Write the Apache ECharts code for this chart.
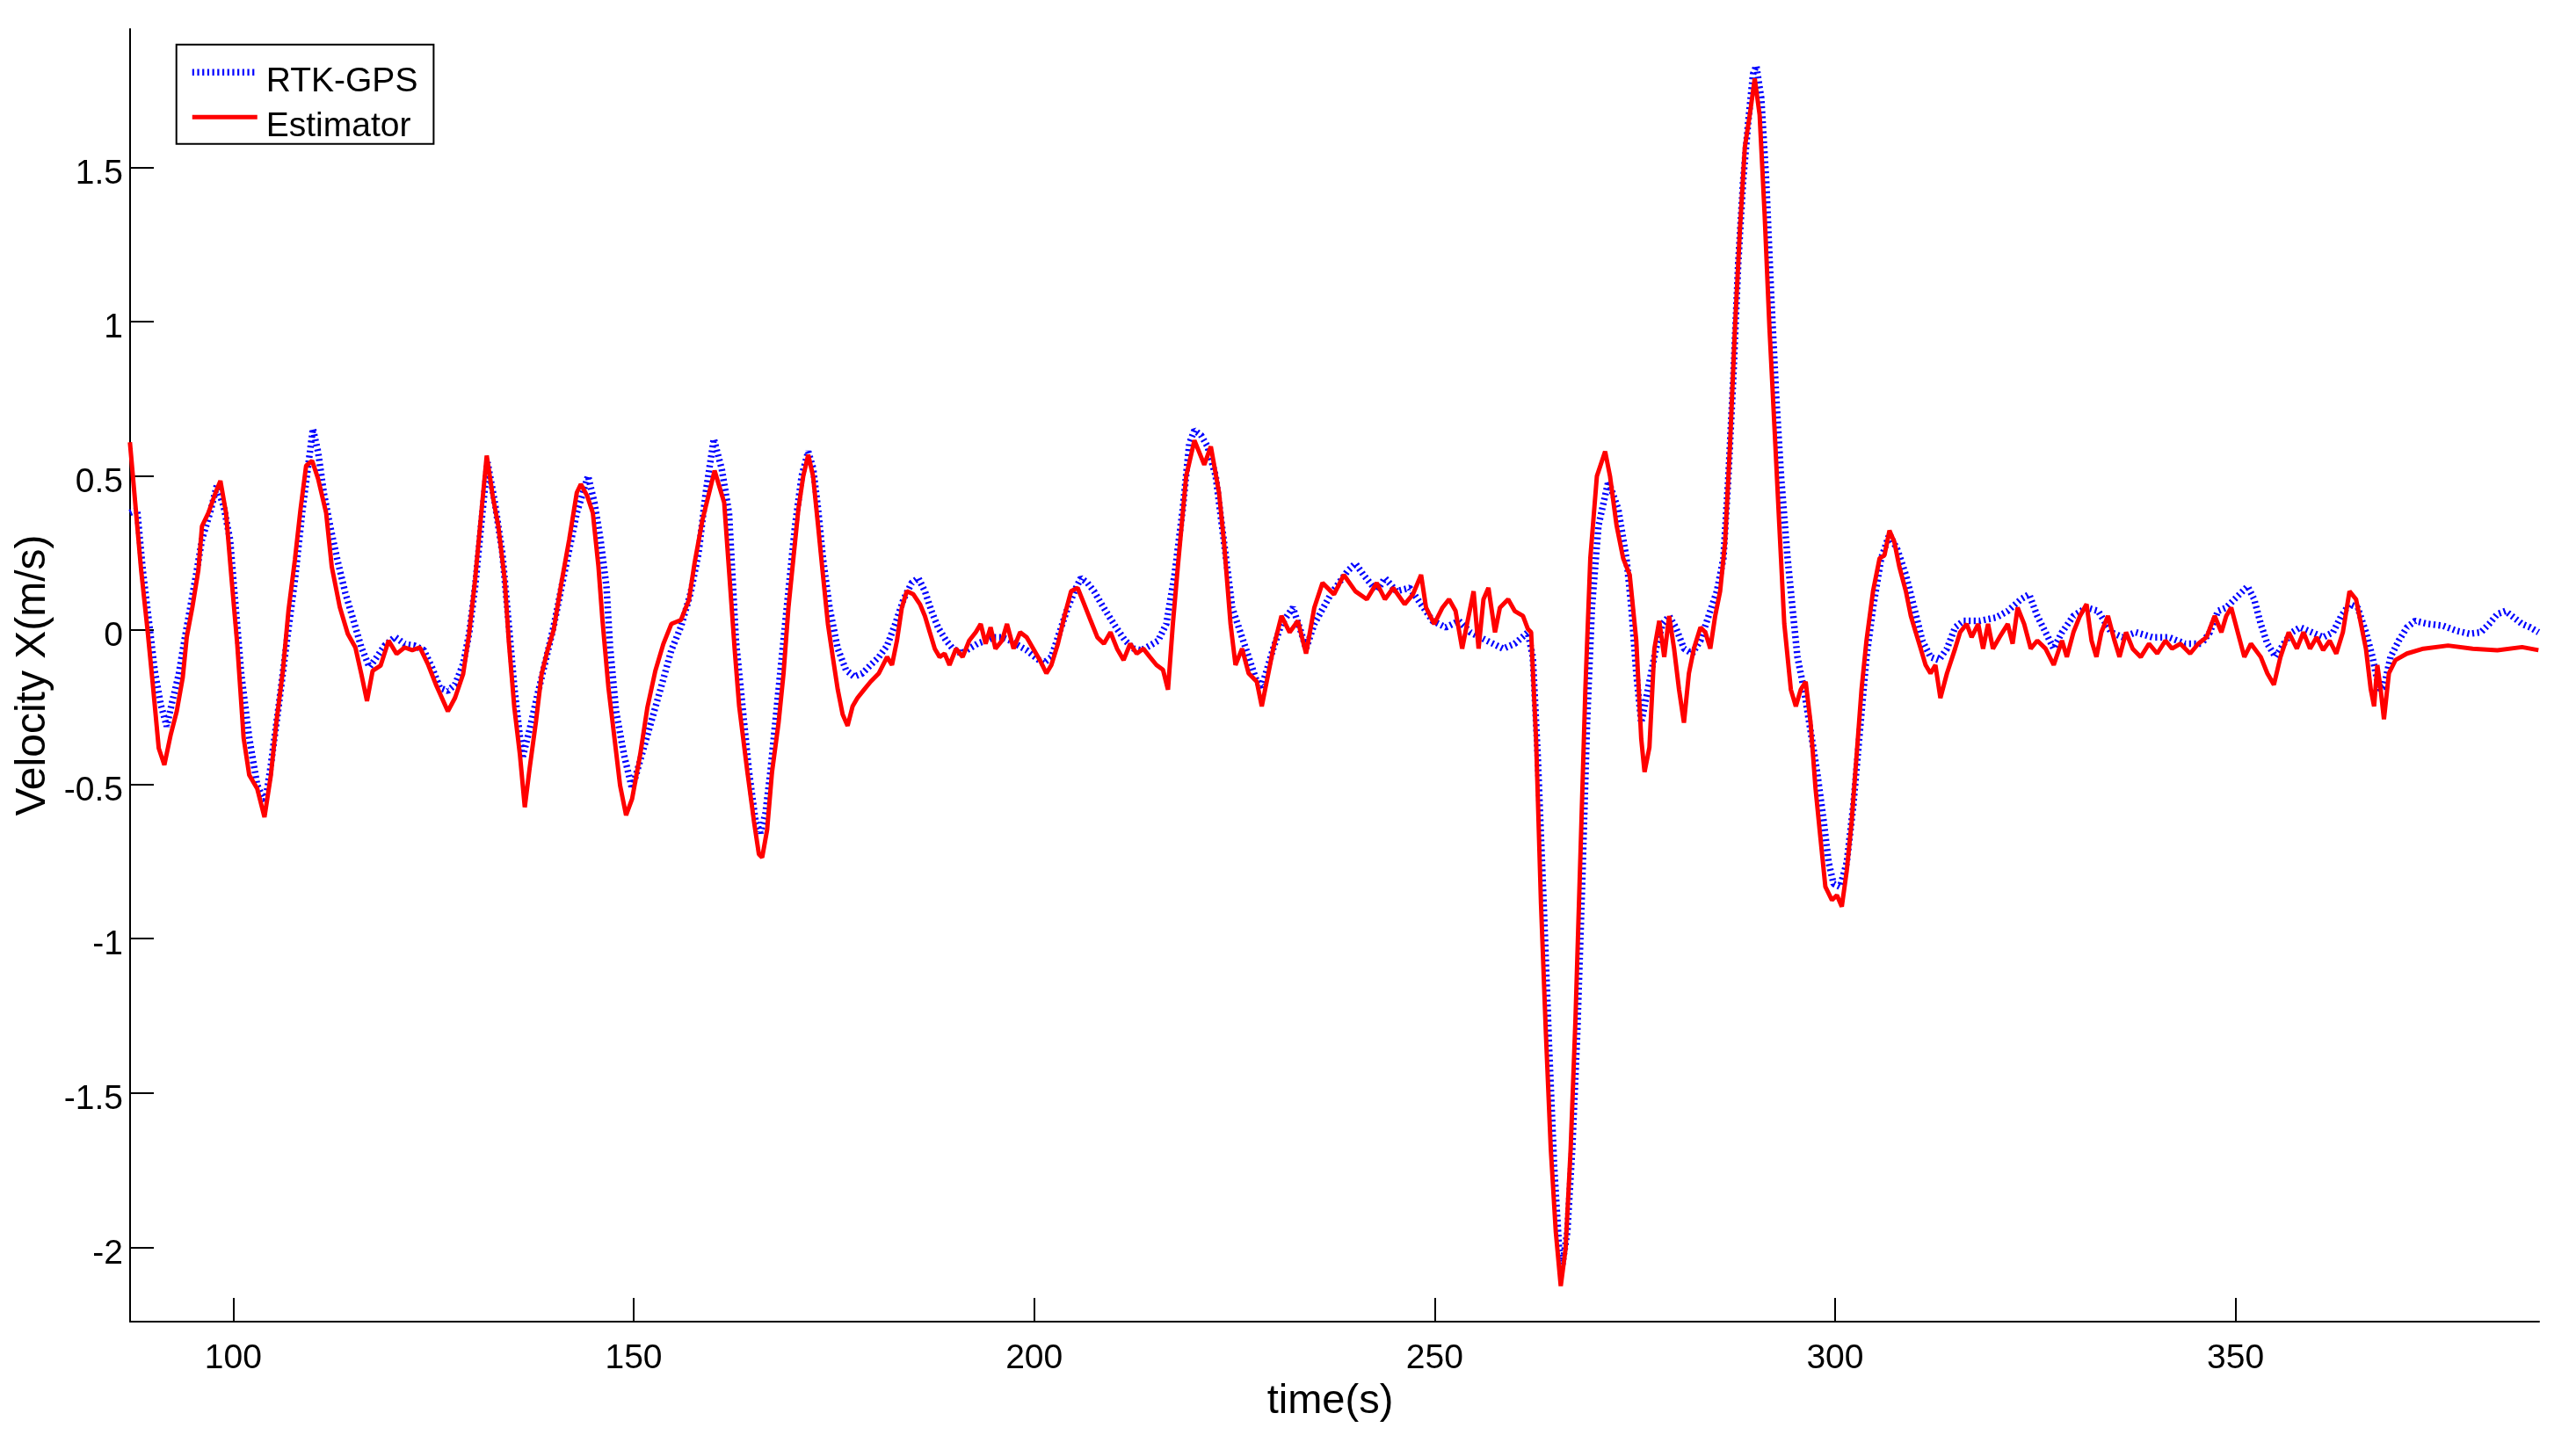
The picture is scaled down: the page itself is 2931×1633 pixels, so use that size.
<!DOCTYPE html>
<html>
<head>
<meta charset="utf-8">
<script src="https://cdn.jsdelivr.net/npm/echarts@6/dist/echarts.min.js"></script>
<style>
html,body{margin:0;padding:0;background:#fff;}
#chart{width:2931px;height:1633px;}
</style>
</head>
<body>
<div id="chart"></div>
<script>
const xTicks = [100, 150, 200, 250, 300, 350];
const yTicks = [-2, -1.5, -1, -0.5, 0, 0.5, 1, 1.5];

const rtkTime = [87.1,88.0,88.7,89.45,90.2,90.95,91.7,92.4,93.2,93.9,94.65,95.4,96.1,97.1,97.95,98.8,99.6,100.3,101.0,102.0,103.0,104.0,104.7,105.7,106.7,107.7,108.6,109.95,110.6,111.3,112.1,113.0,114.0,115.0,116.0,117.0,117.9,118.9,120.2,121.4,122.6,123.8,124.8,125.8,126.8,127.7,128.7,129.45,130.2,130.9,131.75,132.6,133.6,134.35,135.1,136.1,137.05,138.0,139.0,140.0,141.0,141.95,142.9,144.3,145.1,145.85,146.6,147.05,147.8,148.8,149.8,151.0,152.2,153.4,154.7,155.9,157.1,158.1,159.0,160.0,161.0,161.9,
162.76,163.58,164.40,165.22,165.84,166.45,167.07,167.68,168.50,169.32,170.15,170.97,171.79,172.40,173.02,173.63,174.45,175.48,176.50,177.53,178.56,179.58,180.61,181.64,182.66,183.69,184.71,185.54,186.36,187.18,188.00,189.02,189.84,190.87,191.89,192.92,193.94,194.97,195.99,197.02,198.05,199.07,200.10,201.12,202.15,203.17,204.20,205.23,205.84,206.66,207.48,208.30,209.32,210.35,211.38,212.40,213.43,214.45,215.48,216.50,217.53,218.55,219.37,220.01,
220.83,221.65,222.67,223.70,224.73,225.75,226.78,227.80,228.42,229.24,229.85,230.88,232.31,233.34,233.95,234.98,237.03,239.08,240.11,241.13,242.77,243.80,245.24,246.88,248.31,249.75,251.39,253.03,254.46,256.52,258.57,260.0,261.64,262.26,262.87,263.69,264.31,264.92,265.54,265.95,266.57,267.18,267.80,268.41,269.03,269.64,270.46,271.70,272.93,273.95,274.57,275.18,275.80,276.62,277.64,278.46,279.28,280.11,281.13,282.16,283.19,284.21,285.24,286.06,286.68,287.29,287.91,288.52,289.14,289.76,290.17,290.78,291.40,292.02,292.63,293.25,294.07,294.68,295.30,296.12,296.94,297.76,298.58,299.20,299.81,300.63,301.46,302.28,303.10,303.92,304.74,305.76,306.79,307.81,308.84,309.87,310.89,311.92,312.94,313.97,314.99,316.02,318.07,320.12,321.56,323.20,324.23,325.25,326.28,327.30,328.33,329.76,331.40,332.84,334.48,335.92,337.56,339.61,341.66,343.71,345.76,346.79,347.81,348.84,349.87,351.51,352.33,353.15,353.97,355.0,356.02,357.05,358.07,359.51,360.94,362.17,363.20,364.23,365.25,366.28,367.10,367.92,368.53,369.35,370.38,371.40,372.43,374.07,375.92,377.56,379.20,380.64,381.66,382.69,383.71,384.74,385.77,386.79,387.82];
const rtkVel = [0.38,0.39,0.195,0.033,-0.132,-0.241,-0.312,-0.23,-0.143,-0.034,0.075,0.185,0.294,0.38,0.468,0.402,0.294,0.075,-0.143,-0.35,-0.503,-0.558,-0.437,-0.241,-0.034,0.163,0.38,0.653,0.577,0.446,0.337,0.228,0.12,0.033,-0.056,-0.12,-0.088,-0.05,-0.022,-0.045,-0.05,-0.065,-0.12,-0.187,-0.197,-0.176,-0.11,-0.012,0.141,0.326,0.544,0.424,0.25,0.033,-0.187,-0.416,-0.317,-0.208,-0.099,0.011,0.141,0.261,0.38,0.5,0.413,0.294,0.141,-0.056,-0.263,-0.405,-0.514,-0.405,-0.296,-0.187,-0.065,0.011,0.12,0.25,0.446,0.62,0.522,0.38,
-0.034,-0.247,-0.460,-0.620,-0.657,-0.594,-0.460,-0.300,-0.087,0.126,0.339,0.499,0.579,0.525,0.392,0.233,0.073,-0.060,-0.129,-0.151,-0.140,-0.113,-0.087,-0.050,0.020,0.100,0.153,0.169,0.126,0.062,0.009,-0.034,-0.060,-0.076,-0.060,-0.044,-0.034,-0.023,-0.023,-0.034,-0.050,-0.065,-0.087,-0.108,-0.087,-0.007,0.073,0.137,0.169,0.153,0.126,0.089,0.046,0.004,-0.034,-0.060,-0.065,-0.050,-0.034,0.020,0.179,0.392,0.605,0.648,
0.632,0.595,0.499,0.286,0.073,-0.007,-0.087,-0.167,-0.183,-0.113,-0.060,0.020,0.073,-0.007,-0.060,0.020,0.116,0.190,0.216,0.179,0.126,0.169,0.126,0.137,0.084,0.030,0.009,0.030,-0.007,-0.034,-0.060,-0.044,-0.007,-0.087,-0.406,-0.939,-1.365,-1.737,-2.003,-2.056,-1.950,-1.684,-1.311,-0.832,-0.300,0.073,0.339,0.483,0.392,0.233,0.073,-0.140,-0.300,-0.193,-0.060,0.020,0.046,0.009,-0.060,-0.076,-0.034,0.046,0.126,0.233,0.499,0.818,1.191,1.457,1.643,1.803,1.829,1.724,1.457,1.084,0.765,0.499,0.233,0.073,-0.087,-0.193,-0.326,-0.460,-0.620,-0.753,-0.822,-0.832,-0.753,-0.567,-0.326,-0.087,0.073,0.233,0.311,0.259,0.179,0.073,-0.034,-0.087,-0.097,-0.060,0.009,0.030,0.030,0.041,0.062,0.100,0.116,0.046,-0.007,-0.060,-0.007,0.046,0.073,0.062,-0.007,-0.023,-0.007,-0.023,-0.023,-0.044,-0.044,-0.007,0.062,0.073,0.100,0.142,0.100,0.020,-0.044,-0.087,-0.044,-0.007,0.009,-0.007,-0.023,-0.007,0.046,0.084,0.073,-0.007,-0.087,-0.193,-0.183,-0.087,-0.034,0.009,0.030,0.020,0.014,-0.002,-0.012,-0.007,0.020,0.052,0.062,0.041,0.020,0.009,-0.007];

const estTime = [87.1,87.8,88.5,89.3,90.0,90.7,91.4,92.2,92.95,93.7,94.2,94.9,95.65,96.1,96.9,97.8,98.4,99.1,99.8,100.5,101.3,102.0,103.0,103.9,104.7,105.4,106.2,106.9,107.7,108.4,109.1,109.85,110.6,111.6,112.3,113.3,114.3,115.25,116.0,116.7,117.4,118.4,119.4,120.4,121.4,122.35,123.3,124.3,125.3,126.8,127.7,128.7,129.45,130.2,130.9,131.65,132.4,133.1,133.9,134.4,135.1,135.8,136.4,137.0,137.8,138.5,139.25,140.0,140.97,141.95,142.9,143.4,144.2,144.9,145.6,146.1,146.85,147.6,148.3,149.05,149.8,150.8,151.7,152.7,153.7,154.7,155.9,156.9,157.6,158.6,160.1,161.3,161.9,
162.6,163.17,164.20,165.02,165.63,166.04,166.66,167.27,168.09,168.71,169.32,169.94,170.56,171.17,171.79,172.40,173.02,173.63,174.25,174.86,175.48,176.09,176.71,177.33,177.94,178.76,179.58,180.61,181.64,182.25,182.87,183.48,184.10,184.92,185.74,186.36,186.97,187.59,188.20,188.82,189.43,190.25,191.07,191.89,192.71,193.33,193.94,194.56,195.17,195.99,196.61,197.43,198.25,199.07,199.89,200.71,201.53,202.15,202.97,203.79,204.61,205.43,206.25,207.07,207.89,208.71,209.53,210.35,211.17,211.99,212.81,213.63,214.45,215.27,216.09,216.71,217.32,217.94,
218.98,220.01,221.24,222.06,223.08,223.70,224.52,225.14,225.96,226.78,227.80,228.42,229.24,229.85,230.88,231.90,232.93,233.95,234.98,236.0,237.44,238.67,240.11,241.54,242.77,243.80,244.83,246.26,247.29,248.31,248.93,249.95,250.98,251.80,252.62,253.44,254.05,254.87,255.49,256.10,256.72,257.54,258.15,259.18,260.0,261.03,261.64,262.05,262.67,263.28,263.90,264.51,265.13,265.75,266.36,266.98,267.59,268.21,268.82,269.44,270.26,271.29,271.90,272.72,273.54,274.36,275.18,275.80,276.21,276.82,277.44,278.05,278.67,279.28,279.90,280.52,281.13,281.75,282.37,283.19,283.80,284.42,285.03,285.65,286.27,286.89,287.50,288.12,288.73,289.35,289.97,290.58,291.20,291.81,292.43,293.04,293.66,294.48,295.10,295.71,296.33,296.94,297.56,298.17,298.79,299.61,300.23,300.84,301.46,302.07,302.69,303.30,303.92,304.74,305.56,306.17,306.79,307.40,308.02,308.84,309.46,310.07,310.69,311.30,311.92,312.53,313.15,313.97,314.99,315.61,316.43,317.05,317.87,318.48,319.10,319.71,320.53,321.56,322.17,322.79,323.61,324.43,325.25,326.28,327.30,328.33,328.94,329.76,330.58,331.40,332.02,332.63,333.25,334.07,334.89,335.51,336.33,337.15,338.17,339.20,340.22,341.25,342.07,343.10,344.33,345.35,346.38,347.40,348.23,348.84,349.46,350.28,351.10,351.92,353.15,353.97,354.79,355.61,356.64,357.66,358.48,359.30,360.12,360.94,361.76,362.58,363.40,364.23,365.05,365.66,366.28,366.89,367.30,367.71,368.12,368.53,369.15,369.97,371.40,373.46,376.53,379.61,382.69,385.77,387.82];
const estVel = [0.609,0.402,0.195,0.0,-0.187,-0.383,-0.437,-0.338,-0.263,-0.153,-0.022,0.075,0.195,0.337,0.38,0.446,0.484,0.38,0.163,-0.045,-0.35,-0.47,-0.514,-0.606,-0.47,-0.296,-0.132,0.064,0.228,0.391,0.533,0.549,0.49,0.38,0.206,0.075,-0.012,-0.056,-0.143,-0.23,-0.132,-0.115,-0.034,-0.077,-0.056,-0.065,-0.056,-0.11,-0.176,-0.263,-0.219,-0.143,-0.012,0.163,0.359,0.566,0.435,0.337,0.163,-0.034,-0.252,-0.405,-0.574,-0.449,-0.296,-0.143,-0.065,0.0,0.152,0.294,0.446,0.473,0.435,0.38,0.206,0.033,-0.187,-0.35,-0.503,-0.6,-0.547,-0.405,-0.252,-0.132,-0.045,0.02,0.033,0.098,0.217,0.359,0.517,0.413,0.195,
-0.06,-0.247,-0.460,-0.620,-0.726,-0.737,-0.647,-0.460,-0.300,-0.140,0.073,0.233,0.392,0.499,0.568,0.499,0.339,0.179,0.020,-0.087,-0.193,-0.273,-0.310,-0.247,-0.220,-0.193,-0.167,-0.140,-0.087,-0.113,-0.034,0.073,0.126,0.116,0.084,0.046,-0.007,-0.060,-0.087,-0.076,-0.113,-0.060,-0.087,-0.034,-0.007,0.020,-0.044,0.009,-0.060,-0.034,0.020,-0.060,-0.007,-0.023,-0.060,-0.097,-0.140,-0.113,-0.044,0.046,0.126,0.137,0.084,0.030,-0.023,-0.044,-0.007,-0.060,-0.097,-0.044,-0.076,-0.060,-0.087,-0.113,-0.129,-0.193,0.020,0.206,
0.499,0.615,0.536,0.595,0.446,0.286,0.020,-0.113,-0.060,-0.140,-0.167,-0.247,-0.140,-0.060,0.046,-0.007,0.030,-0.076,0.073,0.153,0.116,0.179,0.126,0.100,0.153,0.100,0.137,0.084,0.116,0.179,0.073,0.020,0.073,0.100,0.062,-0.060,0.020,0.126,-0.060,0.100,0.137,-0.007,0.073,0.100,0.062,0.046,0.004,-0.007,-0.353,-0.886,-1.311,-1.684,-1.950,-2.126,-2.003,-1.684,-1.259,-0.726,-0.193,0.233,0.499,0.579,0.499,0.339,0.233,0.179,-0.034,-0.353,-0.460,-0.380,-0.060,0.030,-0.087,0.046,-0.060,-0.193,-0.300,-0.140,-0.060,0.009,-0.007,-0.060,0.046,0.126,0.286,0.605,0.978,1.297,1.564,1.670,1.788,1.670,1.350,0.978,0.659,0.339,0.020,-0.193,-0.247,-0.193,-0.167,-0.300,-0.513,-0.673,-0.832,-0.875,-0.859,-0.896,-0.779,-0.620,-0.406,-0.193,-0.034,0.126,0.233,0.243,0.323,0.286,0.206,0.126,0.046,-0.007,-0.060,-0.113,-0.140,-0.113,-0.220,-0.140,-0.060,-0.007,0.020,-0.023,0.020,-0.060,0.020,-0.060,-0.023,0.020,-0.044,0.073,0.020,-0.060,-0.034,-0.060,-0.113,-0.034,-0.087,-0.007,0.046,0.084,-0.034,-0.087,-0.007,0.046,-0.034,-0.087,-0.007,-0.060,-0.087,-0.044,-0.076,-0.034,-0.060,-0.044,-0.076,-0.044,-0.023,0.046,-0.007,0.046,0.073,-0.007,-0.087,-0.044,-0.087,-0.140,-0.177,-0.087,-0.007,-0.060,-0.007,-0.060,-0.023,-0.065,-0.034,-0.076,-0.007,0.126,0.100,0.020,-0.060,-0.193,-0.247,-0.113,-0.193,-0.289,-0.140,-0.097,-0.076,-0.060,-0.050,-0.060,-0.065,-0.055,-0.065];

const FONT = 'Liberation Sans, Arial, Helvetica, sans-serif';
const zip = (a, b) => a.map((t, i) => [t, b[i]]);
const BLUE = '#0000ff', RED = '#ff0000';
const blueLine = {color: BLUE, width: 7.5, type: [2.2, 3.5], cap: 'butt'};
const redLine = {color: RED, width: 5};

const chart = echarts.init(document.getElementById('chart'), null, {renderer: 'canvas'});
chart.setOption({
  animation: false,
  backgroundColor: '#ffffff',
  grid: {left: 148, right: 42, top: 33, bottom: 129, containLabel: false},
  legend: {
    orient: 'vertical',
    left: 200.7, top: 50.7,
    padding: [1, 18, 0, 14.3],
    borderColor: '#000', borderWidth: 2,
    backgroundColor: '#fff',
    itemWidth: 74, itemHeight: 14, itemGap: -10,
    formatter: '{t|{name}}',
    textStyle: {
      color: '#000', fontFamily: FONT, fontSize: 39,
      rich: {t: {fontSize: 39, color: '#000', fontFamily: FONT, lineHeight: 20, padding: [22, 0, 0, 5]}}
    },
    data: [
      {name: 'RTK-GPS', lineStyle: blueLine, itemStyle: {opacity: 0}},
      {name: 'Estimator', lineStyle: redLine, itemStyle: {opacity: 0}}
    ]
  },
  xAxis: {
    type: 'value', min: 87.12, max: 387.9,
    name: 'time(s)', nameLocation: 'middle', nameGap: 68,
    nameTextStyle: {fontSize: 47, color: '#000', fontFamily: FONT, padding: [0, 10, 0, 0]},
    axisLine: {show: true, onZero: false, lineStyle: {color: '#000', width: 2}},
    axisTick: {show: true, inside: true, length: 27, lineStyle: {color: '#000', width: 2}, customValues: xTicks},
    axisLabel: {customValues: xTicks, fontSize: 39, color: '#000', fontFamily: FONT, margin: 23, formatter: v => String(v)},
    splitLine: {show: false}
  },
  yAxis: {
    type: 'value', min: -2.2413, max: 1.9484,
    name: 'Velocity X(m/s)', nameLocation: 'middle', nameGap: 75,
    nameTextStyle: {fontSize: 48, color: '#000', fontFamily: FONT},
    axisLine: {show: true, onZero: false, lineStyle: {color: '#000', width: 2}},
    axisTick: {show: true, inside: true, length: 27, lineStyle: {color: '#000', width: 2}, customValues: yTicks},
    axisLabel: {
      customValues: yTicks, color: '#000', fontFamily: FONT, fontSize: 39, margin: 8,
      formatter: v => '{a|' + String(v) + '}',
      rich: {a: {fontSize: 39, color: '#000', fontFamily: FONT, padding: [15, 0, 0, 0]}}
    },
    splitLine: {show: false}
  },
  series: [
    {
      name: 'RTK-GPS', type: 'line', symbol: 'none', showSymbol: false,
      data: zip(rtkTime, rtkVel),
      itemStyle: {color: BLUE},
      lineStyle: blueLine,
      z: 2
    },
    {
      name: 'Estimator', type: 'line', symbol: 'none', showSymbol: false,
      data: zip(estTime, estVel),
      itemStyle: {color: RED},
      lineStyle: redLine,
      z: 3
    }
  ]
});
</script>
</body>
</html>
